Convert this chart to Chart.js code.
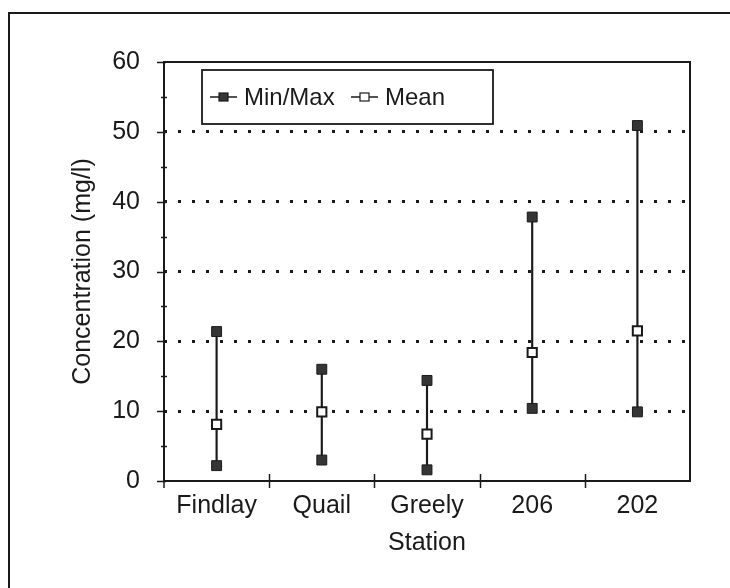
<!DOCTYPE html>
<html>
<head>
<meta charset="utf-8">
<script src="https://cdn.jsdelivr.net/npm/chart.js@4/dist/chart.umd.min.js"></script>
<style>
  html, body { margin: 0; padding: 0; background: #fff; }
  #wrap { width: 730px; height: 588px; position: relative; }
</style>
</head>
<body>
<div id="wrap"><canvas id="chart"></canvas></div>
<script>
// station names along the x axis
const stations = ['Findlay', 'Quail', 'Greely', '206', '202'];
// concentrations in mg/l
const minValues = [2.2, 3.0, 1.6, 10.4, 9.9];
const maxValues = [21.4, 16.0, 14.4, 37.8, 50.9];
const meanValues = [8.1, 9.9, 6.7, 18.4, 21.5];
const yTicks = [0, 10, 20, 30, 40, 50, 60];

const ink = '#1a1a1a';
const markDark = '#353535';
const fontFamily = '"Liberation Sans", Arial, sans-serif';

// frame, plot box, tick marks and legend box
const decorations = {
  id: 'decorations',
  beforeDraw(chart) {
    const { ctx } = chart;
    ctx.save();
    ctx.fillStyle = '#fff';
    ctx.fillRect(0, 0, chart.width, chart.height);
    ctx.strokeStyle = ink;
    ctx.lineWidth = 2;
    ctx.beginPath();
    ctx.moveTo(9, chart.height);
    ctx.lineTo(9, 13);
    ctx.lineTo(chart.width, 13);
    ctx.stroke();
    ctx.restore();
  },
  afterDatasetsDraw(chart) {
    const { ctx, chartArea: a, scales } = chart;
    const x = scales.x;
    const y = scales.y;
    ctx.save();
    ctx.strokeStyle = ink;
    ctx.lineWidth = 2;
    ctx.strokeRect(a.left, a.top, a.right - a.left, a.bottom - a.top);

    // y ticks, major every 10 and minor every 5
    ctx.lineWidth = 1.5;
    for (let v = 0; v <= 60; v += 5) {
      const py = Math.round(y.getPixelForValue(v)) + 0.5;
      ctx.beginPath();
      if (v % 10 === 0) {
        ctx.moveTo(a.left - 7, py);
        ctx.lineTo(a.left + 2, py);
      } else {
        ctx.moveTo(a.left - 3, py);
        ctx.lineTo(a.left + 3, py);
      }
      ctx.stroke();
    }
    // x ticks at category boundaries
    for (let i = 0; i < stations.length - 1; i++) {
      const px = Math.round((x.getPixelForValue(i) + x.getPixelForValue(i + 1)) / 2) + 0.5;
      ctx.beginPath();
      ctx.moveTo(px, a.bottom - 7);
      ctx.lineTo(px, a.bottom + 7);
      ctx.stroke();
    }
    ctx.beginPath();
    ctx.moveTo(a.left, a.bottom);
    ctx.lineTo(a.left, a.bottom + 7);
    ctx.stroke();

    // legend
    const box = { left: 202, top: 70, right: 493, bottom: 124 };
    ctx.fillStyle = '#fff';
    ctx.fillRect(box.left, box.top, box.right - box.left, box.bottom - box.top);
    ctx.lineWidth = 1.8;
    ctx.strokeRect(box.left, box.top, box.right - box.left, box.bottom - box.top);
    const cy = (box.top + box.bottom) / 2;
    const entries = [
      { label: 'Min/Max', x: 210, fill: markDark },
      { label: 'Mean', x: 351, fill: '#fff' }
    ];
    ctx.font = '24px ' + fontFamily;
    ctx.textBaseline = 'middle';
    entries.forEach(e => {
      ctx.strokeStyle = ink;
      ctx.lineWidth = 1.5;
      ctx.beginPath();
      ctx.moveTo(e.x, cy);
      ctx.lineTo(e.x + 27, cy);
      ctx.stroke();
      ctx.fillStyle = e.fill;
      ctx.fillRect(e.x + 9, cy - 4, 9, 8);
      ctx.lineWidth = 1.2;
      ctx.strokeRect(e.x + 9, cy - 4, 9, 8);
      ctx.fillStyle = ink;
      ctx.fillText(e.label, e.x + 34, cy + 1);
    });
    ctx.restore();
  }
};

const pointCommon = {
  type: 'line',
  showLine: false,
  pointStyle: 'rect',
  pointRadius: 7,
  pointHoverRadius: 7,
  pointBorderWidth: 1,
  pointBorderColor: ink,
  order: 0
};

new Chart(document.getElementById('chart'), {
  type: 'bar',
  plugins: [decorations],
  data: {
    labels: stations,
    datasets: [
      {
        label: 'Range',
        data: minValues.map((m, i) => [m, maxValues[i]]),
        backgroundColor: ink,
        borderWidth: 0,
        barThickness: 1.5,
        order: 10
      },
      Object.assign({}, pointCommon, { label: 'Min/Max', data: maxValues, pointBackgroundColor: markDark }),
      Object.assign({}, pointCommon, { label: 'Min/Max', data: minValues, pointBackgroundColor: markDark }),
      Object.assign({}, pointCommon, { label: 'Mean', data: meanValues, pointBackgroundColor: '#fff', pointBorderWidth: 2, pointRadius: 6.5 })
    ]
  },
  options: {
    responsive: true,
    maintainAspectRatio: false,
    animation: false,
    layout: { padding: { top: 62, right: 40, left: 0, bottom: 0 } },
    plugins: {
      legend: { display: false },
      tooltip: { enabled: false }
    },
    scales: {
      x: {
        offset: true,
        afterFit(scale) { scale.height = 107; },
        grid: { display: false, drawTicks: false },
        border: { display: false },
        ticks: { color: ink, padding: 10, font: { family: fontFamily, size: 25 } },
        title: {
          display: true,
          text: 'Station',
          color: ink,
          font: { family: fontFamily, size: 25 },
          padding: { top: 0, bottom: 30 }
        }
      },
      y: {
        min: 0,
        max: 60,
        afterFit(scale) { scale.width = 164; },
        afterBuildTicks(scale) { scale.ticks = yTicks.map(v => ({ value: v })); },
        grid: {
          drawTicks: false,
          lineWidth: 3,
          color: ctx => (ctx.tick && (ctx.tick.value === 0 || ctx.tick.value === 60)) ? 'rgba(0,0,0,0)' : ink
        },
        border: { display: false, dash: [3, 11] },
        ticks: { color: ink, padding: 24, font: { family: fontFamily, size: 25 } },
        title: {
          display: true,
          text: 'Concentration (mg/l)',
          color: ink,
          font: { family: fontFamily, size: 25 },
          padding: { top: 68, bottom: 0 }
        }
      }
    }
  }
});
</script>
</body>
</html>
